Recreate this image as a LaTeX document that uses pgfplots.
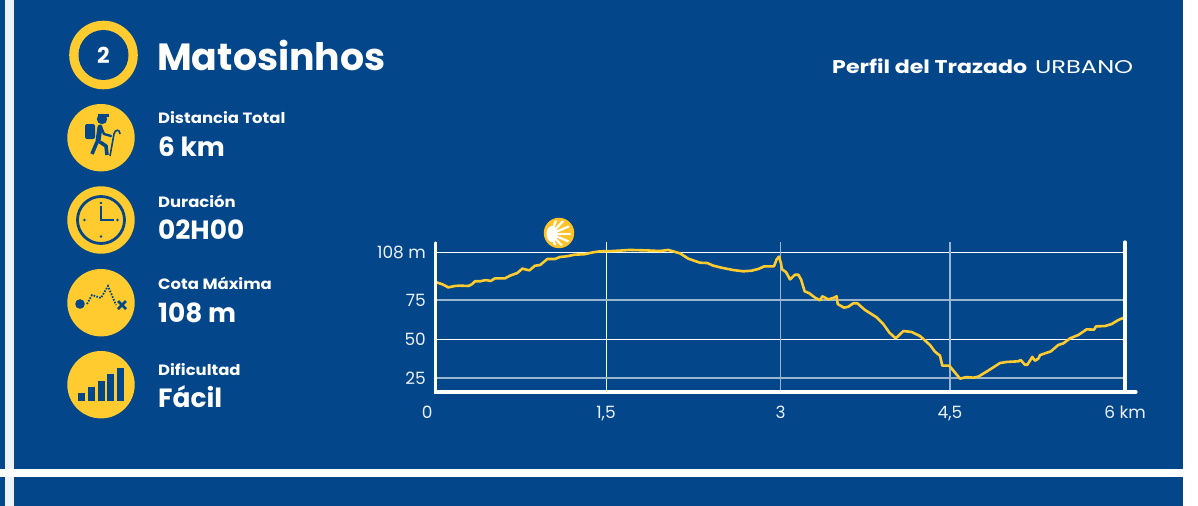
\documentclass[border=0pt]{standalone}
\usepackage{pgfplots}
\pgfplotsset{compat=1.18}
\usepackage{graphicx}
\usepackage{fontspec}
\setmainfont{Poppins}
\definecolor{fondo}{HTML}{03468A}
\definecolor{amarillo}{HTML}{FFCB2F}
\newcommand{\fs}[1]{\fontsize{#1}{#1}\selectfont}
\begin{document}
\begin{tikzpicture}
\useasboundingbox (0,0) rectangle (1198bp,-506bp);
\begin{scope}[x=1bp,y=-1bp]
\fill[white] (0,0) rectangle (1198,506);
\fill[fondo] (0,0) rectangle (1183,506);
\fill[white!93!fondo] (5.5,0) rectangle (13.5,506);
\fill[white] (0,469) rectangle (1183,477);

% cabecera
\fill[amarillo] (103.5,55) circle (34.3);
\fill[fondo] (103.5,55) circle (25);
\node[text=white,font=\fs{22}\bfseries] at (103.5,55) {2};
\node[anchor=base west,inner sep=0,text=white,font=\fs{38}\bfseries] at (157,70) {Matosinhos};
\node[anchor=base west,inner sep=0,text=white,font=\fs{18.5}\bfseries] at (832,73) {\scalebox{1.2}[1]{Perfil del Trazado}};
\node[anchor=base west,inner sep=0,text=white,font=\fs{18.5}] at (1035,73) {\scalebox{1.31}[1]{URBANO}};

% datos de la izquierda
\foreach \yy/\aa/\ab/\ba/\bb in {123.5/Distancia Total/156/6 km/0, 207/Duración/239/02H00/0, 289/Cota Máxima/322/108 m/0, 375/Dificultad/407/Fácil/0}{
  \node[anchor=base west,inner sep=0,text=white,font=\fs{15}\bfseries] at (158,\yy) {\scalebox{1.1}[1]{\aa}};
  \node[anchor=base west,inner sep=0,text=white,font=\fs{26.5}\bfseries] at (158,\ab) {\ba};
}
\foreach \cy in {137.7,220,302.7,384.7}{\fill[amarillo] (101,\cy) circle (33.7);}

% caminante
\fill[fondo] (102,119) circle (5.2);
\fill[fondo] (98,114) rectangle (109,117);
\fill[fondo,rounded corners=2pt] (85,124) rectangle (95,139);
\draw[fondo,line width=5pt,line cap=round,line join=round] (100,127) -- (98,141);
\draw[fondo,line width=2.4pt,line cap=round,line join=round] (101,127) -- (104,134) -- (111,136);
\draw[fondo,line width=3.6pt,line join=round] (97,142) -- (92,154);
\draw[fondo,line width=3.6pt,line join=round] (100,142) -- (106,146) -- (107,155);
\draw[fondo,line width=1.6pt] (110,156) -- (114,134) .. controls (115,129) and (120,129) .. (120,134);

% reloj
\draw[fondo,line width=2.8pt] (101,220) circle (23.5);
\draw[fondo,line width=2.2pt] (101,206) -- (101,220) -- (114,220);
\foreach \dx/\dy in {101/203,117.5/220,84.5/220,101/236.5}{\fill[fondo] (\dx,\dy) circle (1.4);}

% cota
\fill[fondo] (80,304) circle (4.8);
\draw[fondo,line width=1.8pt,dash pattern=on 1.6pt off 1.4pt] (87,304) -- (92,295) -- (101,298) -- (108,286) -- (116,305);
\draw[fondo,line width=2.6pt] (118,301) -- (126,309) (126,301) -- (118,309);

% barras
\foreach \xa/\ya in {78/393,88/387,98/381,107/374,117/368}{\fill[fondo] (\xa,\ya) rectangle (\xa+7,401);}
\end{scope}

\begin{axis}[
  at={(436bp,-392bp)}, anchor=south west, scale only axis,
  width=689bp, height=150bp,
  xmin=0, xmax=6, ymin=16.03, ymax=112.18,
  axis line style={draw=none}, clip=false,
  major tick length=0pt,
  xtick={0,1.48,6}, xticklabels={\makebox[0pt][r]{0\hspace{3.5bp}},{1,5},6 km},
  ytick={50,105.6}, yticklabels={50,108 m},
  extra x ticks={3,4.476}, extra x tick labels={3,{4,5}},
  extra y ticks={25,75}, extra y tick labels={25,75},
  extra tick style={grid style={white!60!fondo,line width=1.4bp}},
  xmajorgrids, ymajorgrids,
  grid style={white,line width=.9bp},
  tick label style={text=white!92!fondo,font=\fs{17}},
  xticklabel style={yshift=-14bp,inner sep=0pt},
  yticklabel style={xshift=-10bp,inner sep=0pt},
]
\addplot[amarillo,line width=2.6bp,line join=round] coordinates {
(0.006,86.3)(0.058,85.0)(0.107,83.1)(0.165,84.0)(0.209,84.2)(0.282,84.0)(0.311,85.0)(0.340,87.0)(0.383,87.0)
(0.435,87.8)(0.476,87.2)(0.514,88.9)(0.601,88.9)(0.644,90.6)(0.708,92.3)(0.752,95.1)(0.813,94.0)(0.862,97.0)
(0.906,97.4)(0.970,101.3)(1.036,101.3)(1.080,102.6)(1.138,103.0)(1.210,104.1)(1.289,104.3)(1.370,105.6)
(1.428,106.2)(1.544,106.4)(1.689,107.1)(1.835,106.8)(1.951,106.4)(2.023,107.1)(2.125,104.9)(2.197,101.5)
(2.299,98.9)(2.363,98.7)(2.415,97.0)(2.488,95.7)(2.589,94.2)(2.676,93.4)(2.749,93.8)(2.807,94.9)(2.859,96.6)
(2.943,96.6)(2.967,101.1)(2.987,102.8)(3.004,98.5)(3.013,94.7)(3.048,92.9)(3.083,88.2)(3.126,91.2)(3.155,91.2)
(3.179,88.2)(3.210,80.6)(3.251,79.3)(3.301,76.5)(3.344,74.8)(3.364,77.4)(3.416,75.4)(3.460,76.3)(3.489,77.4)
(3.498,72.4)(3.553,70.1)(3.591,70.7)(3.634,72.9)(3.669,72.9)(3.736,68.6)(3.837,63.9)(3.895,59.6)(3.948,54.1)
(4.003,50.4)(4.070,55.1)(4.142,54.5)(4.215,51.9)(4.301,46.2)(4.345,41.9)(4.389,39.3)(4.409,32.9)(4.470,32.9)
(4.563,24.6)(4.621,25.6)(4.679,25.2)(4.723,25.9)(4.795,29.1)(4.912,34.6)(4.970,35.3)(5.071,35.7)(5.091,36.5)
(5.129,33.5)(5.149,33.5)(5.193,38.5)(5.216,36.1)(5.245,37.4)(5.260,39.7)(5.355,42.1)(5.419,46.2)(5.463,47.2)
(5.521,50.4)(5.594,52.6)(5.666,56.2)(5.730,56.0)(5.748,58.1)(5.826,58.3)(5.884,59.6)(5.942,62.2)(5.991,63.7)
};
\end{axis}

\begin{scope}[x=1bp,y=-1bp]
% ejes blancos
\draw[white,line width=3.2bp,line cap=round] (435.5,243) -- (435.5,392) -- (1136,392);
\draw[white,line width=3.2bp,line cap=round] (1125,242) -- (1125,392);

% concha
\fill[amarillo!90!orange] (559,233) circle (15.2);
\begin{scope}
\clip (559,233) circle (13);
\foreach \ang in {-70,-47,-23,0,23,47,70}{\draw[white,line width=2.2bp,line cap=round] (551,234) -- ++(\ang:19);}
\end{scope}
\fill[white] (552,234) ellipse (5.5 and 8);
\end{scope}
\end{tikzpicture}
\end{document}
